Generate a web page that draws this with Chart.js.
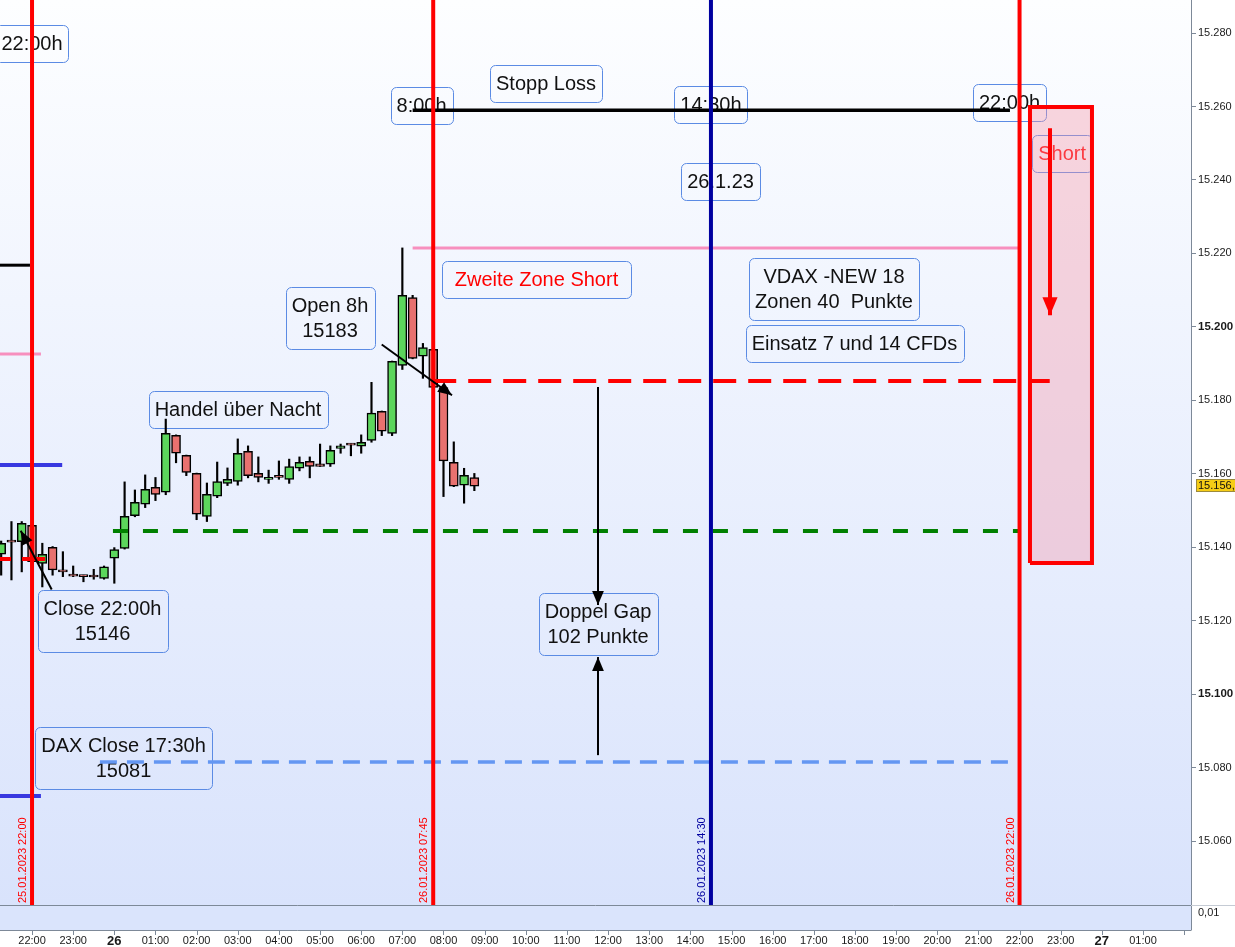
<!DOCTYPE html>
<html>
<head>
<meta charset="utf-8">
<title>DAX 26.01.2023</title>
<script src="https://cdn.jsdelivr.net/npm/chart.js@4.4.1/dist/chart.umd.min.js"></script>
<style>
  html, body { margin: 0; padding: 0; background: #fff; overflow: hidden; }
  canvas { display: block; }
</style>
</head>
<body>
<canvas id="chart" width="1235" height="947"></canvas>
<script>
const $ = document;
const FONT = "'Liberation Sans', Arial, sans-serif";

// minutes after 25.01.2023 22:00, one 15 min candle each
const candleTimes = [-45, -30, -15, 0, 15, 30, 45, 60, 75, 90, 105, 120, 135, 150, 165, 180,
  195, 210, 225, 240, 255, 270, 285, 300, 315, 330, 345, 360, 375, 390, 405, 420, 435, 450,
  465, 480, 495, 510, 525, 540, 555, 570, 585, 600, 615, 630, 645];
const opens = [15138.1, 15141.8, 15141.5, 15146.0, 15135.6, 15140.0, 15133.6, 15132.7, 15132.3, 15132.1,
  15131.5, 15137.0, 15139.7, 15148.6, 15151.7, 15156.3, 15155.0, 15170.5, 15165.0, 15160.1,
  15148.4, 15153.9, 15157.4, 15157.9, 15166.1, 15160.1, 15158.5, 15159.6, 15158.5, 15161.5,
  15163.4, 15162.7, 15162.6, 15166.9, 15168.1, 15167.5, 15169.1, 15177.0, 15171.0, 15189.5,
  15208.0, 15192.0, 15193.9, 15183.5, 15163.1, 15156.9, 15159.0];
const highs = [15141.7, 15147.0, 15147.0, 15146.6, 15141.1, 15140.2, 15138.8, 15134.9, 15132.4, 15134.0,
  15134.9, 15139.9, 15157.8, 15155.6, 15159.7, 15159.0, 15174.9, 15170.6, 15165.1, 15160.2,
  15157.5, 15163.2, 15161.6, 15169.5, 15167.6, 15164.6, 15161.0, 15163.5, 15164.0, 15164.6,
  15164.6, 15168.1, 15167.6, 15168.1, 15168.2, 15170.6, 15184.9, 15177.1, 15190.7, 15221.5,
  15208.6, 15195.5, 15194.0, 15183.6, 15168.7, 15161.5, 15160.1];
const lows = [15132.4, 15131.1, 15133.3, 15134.9, 15129.2, 15132.4, 15132.0, 15132.0, 15130.6, 15131.3,
  15131.3, 15130.2, 15139.5, 15148.3, 15150.8, 15152.7, 15154.3, 15163.0, 15159.5, 15147.5,
  15147.0, 15153.5, 15156.8, 15156.9, 15158.9, 15157.8, 15157.4, 15158.5, 15157.4, 15160.8,
  15158.9, 15162.0, 15162.0, 15165.6, 15164.9, 15165.6, 15168.6, 15170.4, 15170.4, 15188.4,
  15191.3, 15186.0, 15183.4, 15153.8, 15156.5, 15152.0, 15155.4];
const closes = [15141.1, 15141.4, 15146.5, 15136.1, 15138.1, 15133.8, 15133.3, 15132.1, 15132.0, 15131.9,
  15134.7, 15139.4, 15148.4, 15152.2, 15155.8, 15154.4, 15171.0, 15165.6, 15160.4, 15149.0,
  15154.4, 15157.9, 15158.5, 15165.6, 15159.5, 15159.0, 15159.0, 15159.0, 15162.0, 15163.1,
  15162.0, 15162.0, 15166.4, 15167.6, 15167.8, 15168.6, 15176.5, 15171.6, 15190.6, 15208.6,
  15191.4, 15194.4, 15183.5, 15163.5, 15156.6, 15159.6, 15156.6];

// axes
const timeMin = -46.7;
const timeMax = 1690;
const priceMin = 15042.6;
const priceMax = 15289;
const hourTicks = [0, 60, 120, 180, 240, 300, 360, 420, 480, 540, 600, 660, 720, 780, 840, 900,
  960, 1020, 1080, 1140, 1200, 1260, 1320, 1380, 1440, 1500, 1560, 1620];
const priceTicks = [15060, 15080, 15100, 15120, 15140, 15160, 15180, 15200, 15220, 15240, 15260, 15280];

// horizontal levels
const levelStart = [555, -46.7, 555, -46.7, -46.7, -46.7, 585, 118, 99];
const levelEnd = [1426, -3, 1440, 13, 44, 13, 1484, 1440, 1426];
const levelPrice = [15259.0, 15216.8, 15221.5, 15192.6, 15162.4, 15072.3, 15185.3, 15144.4, 15081.5];
// close line near 22:00 (broken)
const closeLineT = [-46.7, -30.6, -22, -14.6, 19];
const closeLineP = [15136.8, 15136.8, null, 15136.8, 15136.8];

// vertical time markers
const markerTimes = [0, 585, 990, 1440];
const markerLabels = ['25.01.2023 22:00', '26.01.2023 07:45', '26.01.2023 14:30', '26.01.2023 22:00'];

// short zone
const zoneTimes = [1455.2, 1545.6];
const zonePrices = [15135.7, 15259.9];

// arrows
const arrowStartT = [509.9, 28.7, 825.3, 825.3, 1484.4];
const arrowStartP = [15195.2, 15128.5, 15183.6, 15083.4, 15254.1];
const arrowEndT = [612.4, -16.5, 825.3, 825.3, 1484.4];
const arrowEndP = [15181.4, 15144.5, 15124.3, 15110.1, 15203.2];

// text notes, anchored at (time, price)
const notes = [
  { t: 0, p: 15277.1, text: '22:00h' },
  { t: 749.5, p: 15266.3, text: 'Stopp Loss' },
  { t: 568, p: 15260.3, text: '8:00h' },
  { t: 990, p: 15260.5, text: '14:30h' },
  { t: 1425.4, p: 15261.2, text: '22:00h' },
  { t: 1502, p: 15247.3, text: 'Short', red: true },
  { t: 1004, p: 15239.7, text: '26.1.23' },
  { t: 735.6, p: 15212.8, text: 'Zweite Zone Short', red: true, pad: 13 },
  { t: 1169.4, p: 15210.4, text: 'VDAX -NEW 18\nZonen 40  Punkte' },
  { t: 1199.3, p: 15195.6, text: 'Einsatz 7 und 14 CFDs' },
  { t: 434.5, p: 15202.5, text: 'Open 8h\n15183' },
  { t: 300.4, p: 15177.5, text: 'Handel über Nacht' },
  { t: 102.8, p: 15119.9, text: 'Close 22:00h\n15146' },
  { t: 825.3, p: 15119.2, text: 'Doppel Gap\n102 Punkte' },
  { t: 133.4, p: 15082.6, text: 'DAX Close 17:30h\n15081' }
];

const UP = '#5cd65c';
const DOWN = '#e8716f';
const RED = '#ff0000';
const NAVY = '#0000a0';
const markerColors = [RED, RED, NAVY, RED];
const levelColors = ['#000000', '#000000', '#f78fbe', '#f78fbe', '#3838e0', '#3838e0', RED, '#008000', '#6497f2'];
const levelWidths = [3.5, 3, 3, 3, 4, 4, 4, 4, 3.5];
const levelDashes = [[], [], [], [], [], [], [23, 12], [15, 15], [17, 10]];

function roundRect(ctx, x, y, w, h, r) {
  ctx.beginPath();
  ctx.moveTo(x + r, y);
  ctx.lineTo(x + w - r, y);
  ctx.arcTo(x + w, y, x + w, y + r, r);
  ctx.lineTo(x + w, y + h - r);
  ctx.arcTo(x + w, y + h, x + w - r, y + h, r);
  ctx.lineTo(x + r, y + h);
  ctx.arcTo(x, y + h, x, y + h - r, r);
  ctx.lineTo(x, y + r);
  ctx.arcTo(x, y, x + r, y, r);
  ctx.closePath();
}

function formatPrice(v) {
  const s = String(Math.floor(v));
  return s.slice(0, 2) + '.' + s.slice(2);
}

function noPadding(s) {
  s.paddingLeft = 0;
  s.paddingRight = 0;
  s.paddingTop = 0;
  s.paddingBottom = 0;
}

const backgroundPlugin = {
  id: 'background',
  beforeDraw(chart) {
    const { ctx, chartArea: a } = chart;
    ctx.save();
    ctx.fillStyle = '#ffffff';
    ctx.fillRect(0, 0, chart.width, chart.height);
    const g = ctx.createLinearGradient(0, a.top, 0, a.bottom);
    g.addColorStop(0, '#fdfeff');
    g.addColorStop(1, '#d9e3fc');
    ctx.fillStyle = g;
    ctx.fillRect(a.left, a.top, a.right - a.left, a.bottom - a.top);
    ctx.fillStyle = '#dae4fc';
    ctx.fillRect(a.left, a.bottom, a.right - a.left, 25);
    ctx.restore();
  }
};

const notesPlugin = {
  id: 'notes',
  beforeDatasetsDraw(chart) {
    const { ctx, scales: { x, y } } = chart;
    ctx.save();
    ctx.font = '20px ' + FONT;
    ctx.textAlign = 'center';
    ctx.textBaseline = 'middle';
    notes.forEach(n => {
      const lines = n.text.split('\n');
      const cx = x.getPixelForValue(n.t);
      const cy = y.getPixelForValue(n.p);
      const tw = Math.max(...lines.map(s => ctx.measureText(s).width));
      const w = tw + 2 * (n.pad || 6);
      const h = lines.length > 1 ? 62 : 37;
      roundRect(ctx, Math.round(cx - w / 2) + 0.5, Math.round(cy - h / 2) + 0.5, Math.round(w), h, 5);
      ctx.strokeStyle = '#5b8be4';
      ctx.lineWidth = 1;
      ctx.stroke();
      ctx.fillStyle = n.red ? RED : '#111111';
      lines.forEach((s, i) => ctx.fillText(s, cx, cy + (i - (lines.length - 1) / 2) * 25 + 1));
    });
    ctx.restore();
  }
};

const overlayPlugin = {
  id: 'overlay',
  afterDatasetsDraw(chart) {
    const { ctx, scales: { x, y } } = chart;
    // arrow heads
    chart.data.datasets.forEach((ds, i) => {
      if (!ds.arrowHead) return;
      const pts = chart.getDatasetMeta(i).data;
      const a = pts[pts.length - 2];
      const b = pts[pts.length - 1];
      const ang = Math.atan2(b.y - a.y, b.x - a.x);
      const L = ds.arrowHead;
      const W = L * 0.42;
      ctx.save();
      ctx.translate(b.x, b.y);
      ctx.rotate(ang);
      ctx.beginPath();
      ctx.moveTo(0, 0);
      ctx.lineTo(-L, -W);
      ctx.lineTo(-L, W);
      ctx.closePath();
      ctx.fillStyle = ds.borderColor;
      ctx.fill();
      ctx.restore();
    });
    // rotated labels of time markers
    markerTimes.forEach((t, i) => {
      const px = x.getPixelForValue(t);
      ctx.save();
      ctx.translate(px - 9, y.bottom - 2);
      ctx.rotate(-Math.PI / 2);
      ctx.font = '11px ' + FONT;
      ctx.textAlign = 'left';
      ctx.textBaseline = 'middle';
      ctx.fillStyle = markerColors[i];
      ctx.fillText(markerLabels[i], 0, 0);
      ctx.restore();
    });
  },
  afterDraw(chart) {
    const { ctx, chartArea: a, scales: { x, y } } = chart;
    ctx.save();
    ctx.lineWidth = 1;
    // lower indicator panel
    ctx.strokeStyle = '#7d8998';
    ctx.beginPath();
    ctx.moveTo(a.left, a.bottom + 0.5);
    ctx.lineTo(a.right, a.bottom + 0.5);
    ctx.moveTo(a.left, a.bottom + 25.5);
    ctx.lineTo(a.right, a.bottom + 25.5);
    ctx.moveTo(a.right + 0.5, a.top);
    ctx.lineTo(a.right + 0.5, a.bottom + 25.5);
    ctx.stroke();
    ctx.strokeStyle = '#c5cbd4';
    ctx.beginPath();
    ctx.moveTo(a.right, a.bottom + 0.5);
    ctx.lineTo(chart.width, a.bottom + 0.5);
    ctx.stroke();
    // hour tick marks under the panel
    ctx.strokeStyle = '#7d8998';
    ctx.beginPath();
    hourTicks.concat([1680]).forEach(t => {
      const px = Math.round(x.getPixelForValue(t)) + 0.5;
      ctx.moveTo(px, a.bottom + 25);
      ctx.lineTo(px, a.bottom + 30);
    });
    ctx.stroke();
    ctx.font = '11px ' + FONT;
    ctx.fillStyle = '#1a1a1a';
    ctx.textAlign = 'left';
    ctx.textBaseline = 'middle';
    ctx.fillText('0,01', a.right + 7, a.bottom + 8);
    // last price marker
    const last = closes[closes.length - 1];
    const py = Math.round(y.getPixelForValue(last));
    ctx.fillStyle = '#f6cd16';
    ctx.fillRect(a.right + 5, py - 7, chart.width - a.right - 4, 13);
    ctx.strokeStyle = '#9c8a3c';
    ctx.strokeRect(a.right + 5.5, py - 6.5, chart.width - a.right - 4, 12);
    ctx.fillStyle = '#111111';
    ctx.fillText(formatPrice(last) + ',' + last.toFixed(1).slice(-1), a.right + 7, py);
    ctx.restore();
  }
};

function generateDatasets() {
  const sets = [];
  sets.push({
    type: 'bar',
    label: 'Kerzen',
    data: candleTimes.map((t, i) => ({ x: t, y: [opens[i], closes[i]] })),
    backgroundColor: opens.map((o, i) => (closes[i] >= o ? UP : DOWN)),
    borderColor: '#000000',
    borderWidth: 1.5,
    borderSkipped: false,
    barThickness: 9,
    minBarLength: 2,
    grouped: false,
    order: 8
  });
  sets.push({
    type: 'bar',
    label: 'Dochte',
    data: candleTimes.map((t, i) => ({ x: t, y: [lows[i], highs[i]] })),
    backgroundColor: '#000000',
    borderWidth: 0,
    barThickness: 1.5,
    grouped: false,
    order: 9
  });
  // short zone fill + frame
  sets.push({
    type: 'line',
    data: [{ x: zoneTimes[0], y: zonePrices[1] }, { x: zoneTimes[1], y: zonePrices[1] }],
    borderWidth: 0,
    pointRadius: 0,
    fill: { value: zonePrices[0] },
    backgroundColor: 'rgba(244, 150, 168, 0.38)',
    order: 11
  });
  sets.push({
    type: 'line',
    data: [
      { x: zoneTimes[0], y: zonePrices[0] }, { x: zoneTimes[0], y: zonePrices[1] },
      { x: zoneTimes[1], y: zonePrices[1] }, { x: zoneTimes[1], y: zonePrices[0] },
      { x: zoneTimes[0], y: zonePrices[0] }
    ],
    borderColor: RED,
    borderWidth: 4,
    borderJoinStyle: 'miter',
    pointRadius: 0,
    fill: false,
    order: 4
  });
  levelPrice.forEach((p, i) => {
    sets.push({
      type: 'line',
      data: [{ x: levelStart[i], y: p }, { x: levelEnd[i], y: p }],
      borderColor: levelColors[i],
      borderWidth: levelWidths[i],
      borderDash: levelDashes[i],
      pointRadius: 0,
      fill: false,
      order: 5
    });
  });
  sets.push({
    type: 'line',
    data: closeLineT.map((t, i) => ({ x: t, y: closeLineP[i] })),
    borderColor: RED,
    borderWidth: 4,
    spanGaps: false,
    pointRadius: 0,
    fill: false,
    order: 5
  });
  markerTimes.forEach((t, i) => {
    sets.push({
      type: 'line',
      data: [{ x: t, y: priceMin }, { x: t, y: priceMax }],
      borderColor: markerColors[i],
      borderWidth: 4,
      pointRadius: 0,
      fill: false,
      order: 3
    });
  });
  arrowStartT.forEach((t, i) => {
    const red = i === arrowStartT.length - 1;
    sets.push({
      type: 'line',
      data: [{ x: t, y: arrowStartP[i] }, { x: arrowEndT[i], y: arrowEndP[i] }],
      borderColor: red ? RED : '#000000',
      borderWidth: red ? 4 : 2,
      pointRadius: 0,
      fill: false,
      arrowHead: red ? 18 : 14,
      order: 1
    });
  });
  return sets;
}

function setChartSettings() {
  Chart.defaults.font.family = FONT;
  Chart.defaults.font.size = 11;
  Chart.defaults.color = '#1a1a1a';
}

function generateChart() {
  const canvas = $.getElementById('chart');
  new Chart(canvas, {
    type: 'bar',
    data: { datasets: generateDatasets() },
    options: {
      responsive: false,
      animation: false,
      devicePixelRatio: 1,
      layout: { padding: 0 },
      plugins: { legend: { display: false }, tooltip: { enabled: false } },
      scales: {
        x: {
          type: 'linear',
          position: 'bottom',
          min: timeMin,
          max: timeMax,
          offset: false,
          grid: { display: false, drawTicks: false },
          border: { display: false },
          afterBuildTicks: s => { s.ticks = hourTicks.map(v => ({ value: v })); },
          afterFit: s => { s.height = 42; noPadding(s); },
          ticks: {
            autoSkip: false,
            maxRotation: 0,
            padding: 29,
            color: '#1a1a1a',
            font: c => {
              const day = c.tick && ((22 * 60 + c.tick.value) % 1440 === 0);
              return day ? { size: 13, weight: 'bold', family: FONT } : { size: 11, family: FONT };
            },
            callback: v => {
              const total = 22 * 60 + v;
              const h = (total % 1440) / 60;
              if (h === 0) return String(25 + Math.floor(total / 1440));
              return String(h).padStart(2, '0') + ':00';
            }
          }
        },
        y: {
          type: 'linear',
          position: 'right',
          min: priceMin,
          max: priceMax,
          beginAtZero: false,
          grid: { drawOnChartArea: false, drawTicks: true, tickLength: 5, color: '#7d8998' },
          border: { display: true, color: '#7d8998' },
          afterBuildTicks: s => { s.ticks = priceTicks.map(v => ({ value: v })); },
          afterFit: s => { s.width = 44; noPadding(s); },
          ticks: {
            autoSkip: false,
            padding: 2,
            color: '#1a1a1a',
            font: c => {
              const bold = c.tick && (c.tick.value === 15200 || c.tick.value === 15100);
              return bold ? { size: 11.5, weight: 'bold', family: FONT } : { size: 11, family: FONT };
            },
            callback: v => formatPrice(v)
          }
        }
      }
    },
    plugins: [backgroundPlugin, notesPlugin, overlayPlugin]
  });
}

setChartSettings();
generateChart();
</script>
</body>
</html>
